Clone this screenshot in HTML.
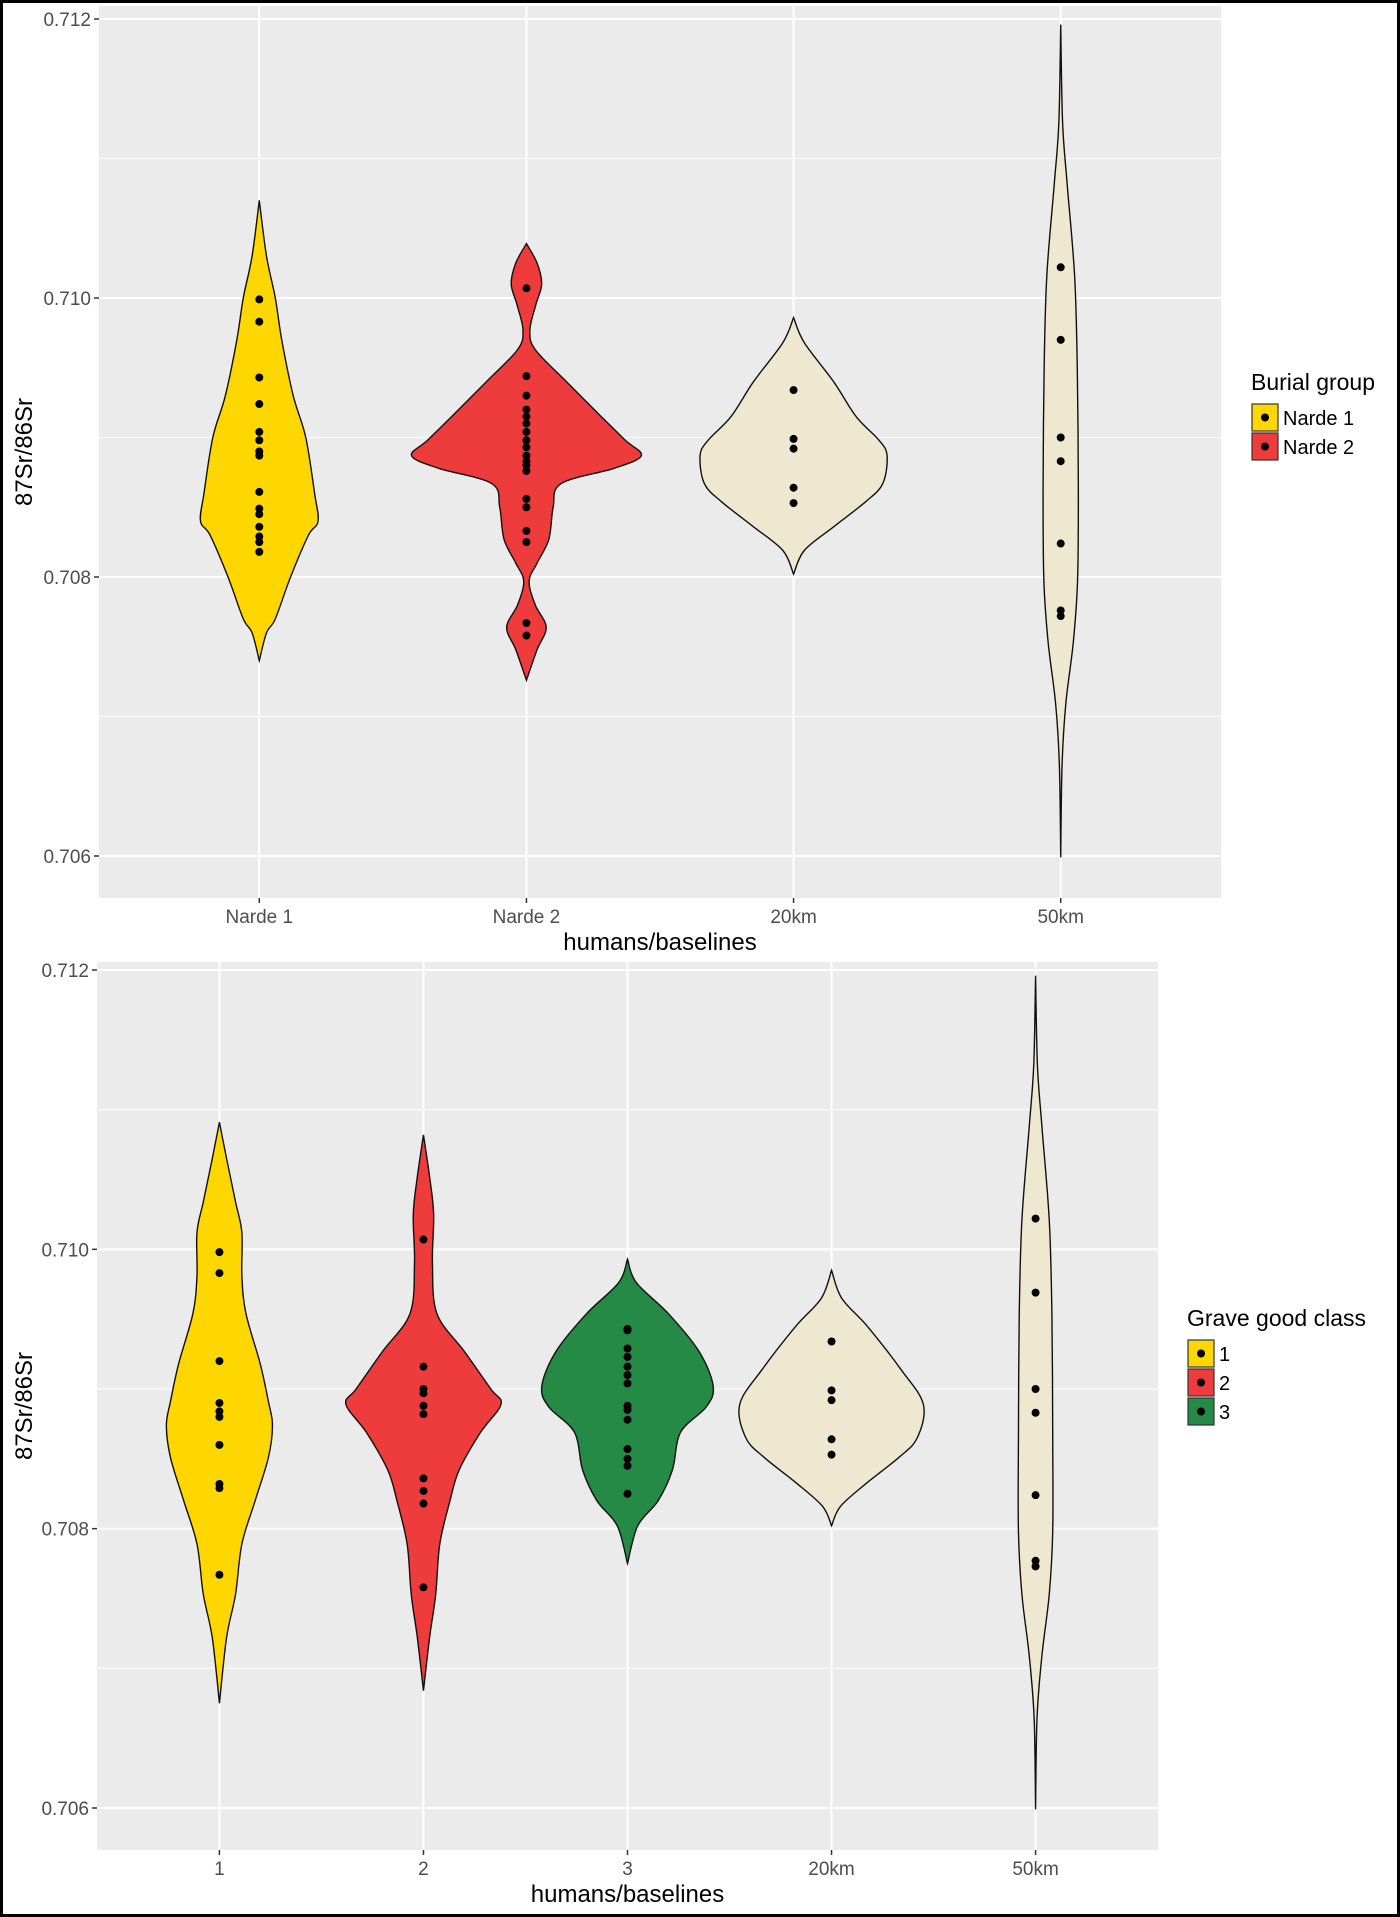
<!DOCTYPE html>
<html><head><meta charset="utf-8">
<style>
html,body{margin:0;padding:0;background:#fff;}
#wrap{width:1400px;height:1917px;position:relative;box-sizing:border-box;border:3px solid #000;overflow:hidden;}
svg{position:absolute;left:-3px;top:-3px;}
text{font-family:"Liberation Sans",sans-serif;}
</style></head>
<body>
<div id="wrap">
<svg id="svg" width="1400" height="1917" xmlns="http://www.w3.org/2000/svg"></svg>
</div>
<script>
// ---- data ----
const topCategories = ["Narde 1","Narde 2","20km","50km"];
const topFills = ["#FFD700","#EE3B3B","#EEE8D0","#EEE8D0"];
const topProfiles = [
 [[0.7107,0],[0.7103,0.027],[0.7100,0.06],[0.7097,0.084],[0.7093,0.127],[0.7090,0.174],[0.7086,0.207],[0.7084,0.22],[0.7083,0.184],[0.7080,0.117],[0.7077,0.06],[0.7076,0.027],[0.7074,0]],
 [[0.71039,0],[0.71025,0.04],[0.7101,0.057],[0.70995,0.035],[0.70977,0.013],[0.70963,0.033],[0.7094,0.15],[0.70915,0.28],[0.70898,0.37],[0.70887,0.43],[0.70878,0.33],[0.70867,0.13],[0.7085,0.1],[0.70827,0.084],[0.7081,0.04],[0.70797,0.01],[0.7078,0.033],[0.70764,0.074],[0.70748,0.04],[0.70726,0]],
 [[0.70986,0],[0.70968,0.04],[0.7094,0.15],[0.70915,0.234],[0.70898,0.32],[0.70887,0.35],[0.70867,0.334],[0.70854,0.27],[0.70836,0.15],[0.70819,0.04],[0.70802,0]],
 [[0.71196,0],[0.71126,0.007],[0.71082,0.024],[0.71016,0.052],[0.7095,0.062],[0.70862,0.066],[0.70797,0.063],[0.70753,0.047],[0.70709,0.019],[0.70665,0.005],[0.70599,0]]
];
const topPoints = [
 [0.70999,0.70983,0.70943,0.70924,0.70904,0.70898,0.7089,0.70887,0.70861,0.70849,0.70845,0.70836,0.70829,0.70825,0.70818],
 [0.71007,0.70944,0.7093,0.7092,0.70915,0.7091,0.70904,0.70898,0.70893,0.70887,0.70883,0.7088,0.70876,0.70856,0.7085,0.70833,0.70825,0.70767,0.70758],
 [0.70934,0.70899,0.70892,0.70864,0.70853],
 [0.71022,0.7097,0.709,0.70883,0.70824,0.70776,0.70772]
];
const botCategories = ["1","2","3","20km","50km"];
const botFills = ["#FFD700","#EE3B3B","#248A45","#EEE8D0","#EEE8D0"];
const botProfiles = [
 [[0.71091,0],[0.71065,0.035],[0.71034,0.079],[0.71012,0.11],[0.70981,0.11],[0.70954,0.13],[0.70918,0.2],[0.70891,0.24],[0.70874,0.26],[0.70851,0.24],[0.7082,0.175],[0.70789,0.11],[0.70753,0.079],[0.70722,0.035],[0.70675,0]],
 [[0.71082,0],[0.71052,0.03],[0.71025,0.05],[0.7099,0.044],[0.70954,0.066],[0.70927,0.2],[0.709,0.33],[0.70889,0.38],[0.70869,0.28],[0.70842,0.175],[0.7082,0.13],[0.70789,0.08],[0.70753,0.06],[0.70722,0.03],[0.70684,0]],
 [[0.70993,0],[0.70976,0.044],[0.70954,0.2],[0.70927,0.35],[0.70902,0.42],[0.70887,0.385],[0.70869,0.26],[0.70842,0.22],[0.7082,0.15],[0.70802,0.05],[0.70775,0]],
 [[0.70985,0],[0.70965,0.05],[0.70945,0.175],[0.70914,0.34],[0.70889,0.45],[0.70865,0.42],[0.70851,0.33],[0.70833,0.175],[0.70816,0.044],[0.70802,0]],
 [[0.71196,0],[0.71132,0.009],[0.71088,0.031],[0.71021,0.067],[0.70954,0.08],[0.70865,0.084],[0.70798,0.084],[0.70753,0.067],[0.70709,0.031],[0.70664,0.007],[0.70599,0]]
];
const botPoints = [
 [0.70998,0.70983,0.7092,0.7089,0.70884,0.7088,0.7086,0.70832,0.70829,0.70767],
 [0.71007,0.70916,0.709,0.70897,0.70888,0.70882,0.70836,0.70827,0.70818,0.70758],
 [0.70943,0.70942,0.70929,0.70923,0.70916,0.7091,0.70904,0.70888,0.70885,0.70878,0.70857,0.7085,0.70845,0.70825],
 [0.70934,0.70899,0.70892,0.70864,0.70853],
 [0.71022,0.70969,0.709,0.70883,0.70824,0.70777,0.70773]
];
const yTicks = [0.706,0.708,0.710,0.712];
const yTickLabels = ["0.706","0.708","0.710","0.712"];
const yMinor = [0.707,0.709,0.711];

const NS="http://www.w3.org/2000/svg";
const svg=document.getElementById('svg');
function mk(tag,attrs,parent){const e=document.createElementNS(NS,tag);for(const k in attrs)e.setAttribute(k,attrs[k]);(parent||svg).appendChild(e);return e;}
function smooth(pts){let d="M"+pts[0][0]+","+pts[0][1];for(let i=0;i<pts.length-1;i++){const p0=pts[i-1]||pts[i],p1=pts[i],p2=pts[i+1],p3=pts[i+2]||p2;const c1=[p1[0]+(p2[0]-p0[0])/6,p1[1]+(p2[1]-p0[1])/6],c2=[p2[0]-(p3[0]-p1[0])/6,p2[1]-(p3[1]-p1[1])/6];d+=`C${c1[0]},${c1[1]} ${c2[0]},${c2[1]} ${p2[0]},${p2[1]}`;}return d;}

function panel(o){
 const g=mk('g',{});  
 const n=o.cats.length, step=(o.x1-o.x0)/(n+0.2);
 const xs=i=>o.x0+step*(0.6+i);
 const ys=v=>o.y712+(0.712-v)/0.006*(o.y706-o.y712);
 const bg=mk('rect',{x:o.x0,y:o.yt,width:o.x1-o.x0,height:o.yb-o.yt,fill:'#EBEBEB'},g);
 
 yMinor.forEach(v=>mk('line',{x1:o.x0,x2:o.x1,y1:ys(v),y2:ys(v),stroke:'#fff','stroke-width':1},g));
 yTicks.forEach((v,i)=>{
  mk('line',{x1:o.x0,x2:o.x1,y1:ys(v),y2:ys(v),stroke:'#fff','stroke-width':2},g);
  mk('line',{x1:o.x0-5,x2:o.x0,y1:ys(v),y2:ys(v),stroke:'#333','stroke-width':1.5},g);
  const t=mk('text',{x:o.x0-8,y:ys(v)+7,'text-anchor':'end','font-size':19,fill:'#4d4d4d'},g);t.textContent=yTickLabels[i];
  
 });
 o.cats.forEach((c,i)=>{
  mk('line',{x1:xs(i),x2:xs(i),y1:o.yt,y2:o.yb,stroke:'#fff','stroke-width':2},g);
  mk('line',{x1:xs(i),x2:xs(i),y1:o.yb,y2:o.yb+5,stroke:'#333','stroke-width':1.5},g);
  const t=mk('text',{x:xs(i),y:o.yb+25,'text-anchor':'middle','font-size':19,fill:'#4d4d4d'},g);t.textContent=c;
  
 });
 o.profiles.forEach((prof,i)=>{
  const cx=xs(i);
  const right=prof.map(p=>[cx+p[1]*step,ys(p[0])]);
  const left=prof.slice().reverse().map(p=>[cx-p[1]*step,ys(p[0])]);
  const d=smooth(right)+smooth(left).replace(/^M/,'L')+'Z';
  const v=mk('path',{d:d,fill:o.fills[i],stroke:'#111','stroke-width':1.4},g);
  
  
  o.points[i].forEach(val=>{
   const c=mk('circle',{cx:cx,cy:ys(val),r:4,fill:'#000'},g);
   
   
  });
 });
 const xt=mk('text',{x:(o.x0+o.x1)/2,y:o.yb+52,'text-anchor':'middle','font-size':24,fill:'#000'},g);xt.textContent='humans/baselines';
 
 const yc=(o.yt+o.yb)/2;
 const yt=mk('text',{x:32,y:yc,'text-anchor':'middle','font-size':24,fill:'#000',transform:`rotate(-90 32 ${yc})`},g);yt.textContent='87Sr/86Sr';
 
 const lg=mk('g',{},g);
 const lt=mk('text',{x:o.lx,y:o.ly,'font-size':23,fill:'#000'},lg);lt.textContent=o.legTitle;
 
 o.legLabels.forEach((l,i)=>{
  const ky=o.ly+14+i*29;
  const e=mk('g',{},lg);
  mk('rect',{x:o.lx+1,y:ky,width:26,height:27,fill:o.fills[i],stroke:'#333','stroke-width':1.2},e);
  mk('circle',{cx:o.lx+14,cy:ky+13.5,r:4,fill:'#000'},e);
  const tt=mk('text',{x:o.lx+32,y:ky+21,'font-size':20,fill:'#000'},e);tt.textContent=l;
 });
}
panel({name:'top-panel',cats:topCategories,fills:topFills,profiles:topProfiles,points:topPoints,
 x0:99,x1:1221,yt:6,yb:898,y712:19,y706:856,lx:1251,ly:390,legTitle:'Burial group',legLabels:['Narde 1','Narde 2']});
panel({name:'bottom-panel',cats:botCategories,fills:botFills,profiles:botProfiles,points:botPoints,
 x0:97,x1:1158,yt:962,yb:1850,y712:970,y706:1808,lx:1187,ly:1326,legTitle:'Grave good class',legLabels:['1','2','3']});
</script>
</body></html>
